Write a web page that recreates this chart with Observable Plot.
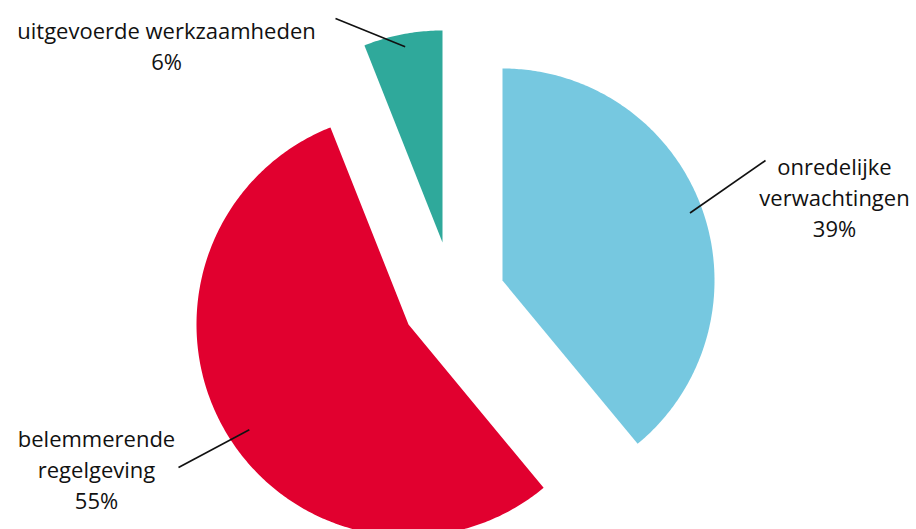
<!DOCTYPE html>
<html><head><meta charset="utf-8">
<script src="https://cdn.jsdelivr.net/npm/d3@7"></script>
<script src="https://cdn.jsdelivr.net/npm/@observablehq/plot@0.6"></script>
<style>html,body{margin:0;padding:0;background:#fff}</style>
</head><body><div id="chart"></div>
<script>
// ---- data ----
const categories = ["onredelijke verwachtingen", "belemmerende regelgeving", "uitgevoerde werkzaamheden"];
const labelTexts = ["onredelijke\nverwachtingen\n39%", "belemmerende\nregelgeving\n55%", "uitgevoerde werkzaamheden\n6%"];
const values = [39, 55, 6];
const colors = ["#76c8e0", "#e1002f", "#2fa99b"];

// ---- layout (pixels) ----
const W = 916, H = 529;
const cx = 440, cy = 304, R = 212;
const explode = [[62, -24], [-32, 20], [2, -62]];   // per-slice offset of the wedge
const labelAnchor = [[834, 152.5], [96, 424.5], [166, 16.5]]; // label block (top of first line)
const leaderEnd = [[765, 160], [178, 467], [335, 18]];
const leaderR = [0.94, 0.9, 0.94];

const arcs = d3.pie().sort(null)(values);
const slicePts = [];
const leaders = [];
const labels = [];
arcs.forEach((a, i) => {
  const ox = cx + explode[i][0], oy = cy + explode[i][1];
  slicePts.push({cat: categories[i], x: ox, y: oy});
  const n = Math.max(8, Math.ceil((a.endAngle - a.startAngle) * 90));
  for (let k = 0; k <= n; k++) {
    const t = a.startAngle + (a.endAngle - a.startAngle) * k / n;
    slicePts.push({cat: categories[i], x: ox + R * Math.sin(t), y: oy - R * Math.cos(t)});
  }
  const mid = (a.startAngle + a.endAngle) / 2 - (i === 1 ? 0.05 : 0);
  leaders.push({x1: ox + leaderR[i] * R * Math.sin(mid), y1: oy - leaderR[i] * R * Math.cos(mid), x2: leaderEnd[i][0], y2: leaderEnd[i][1]});
  labels.push({text: labelTexts[i], x: labelAnchor[i][0], y: labelAnchor[i][1]});
});

const chart = Plot.plot({
  width: W, height: H, margin: 0,
  x: {domain: [0, W], range: [0, W], axis: null},
  y: {domain: [0, H], range: [0, H], axis: null},
  color: {domain: categories, range: colors},
  style: {fontFamily: "'Open Sans', sans-serif", background: "#fff"},
  marks: [
    Plot.line(slicePts, {x: "x", y: "y", z: "cat", fill: "cat", stroke: null, curve: "linear-closed"}),
    Plot.link(leaders, {x1: "x1", y1: "y1", x2: "x2", y2: "y2", stroke: "#111", strokeWidth: 1.6}),
    Plot.text(labels, {x: "x", y: "y", text: "text", textAnchor: "middle", lineAnchor: "top", lineHeight: 1.41, fontSize: 22, fontWeight: 500, fill: "#111"})
  ]
});
document.getElementById("chart").appendChild(chart);
</script>
</body></html>
